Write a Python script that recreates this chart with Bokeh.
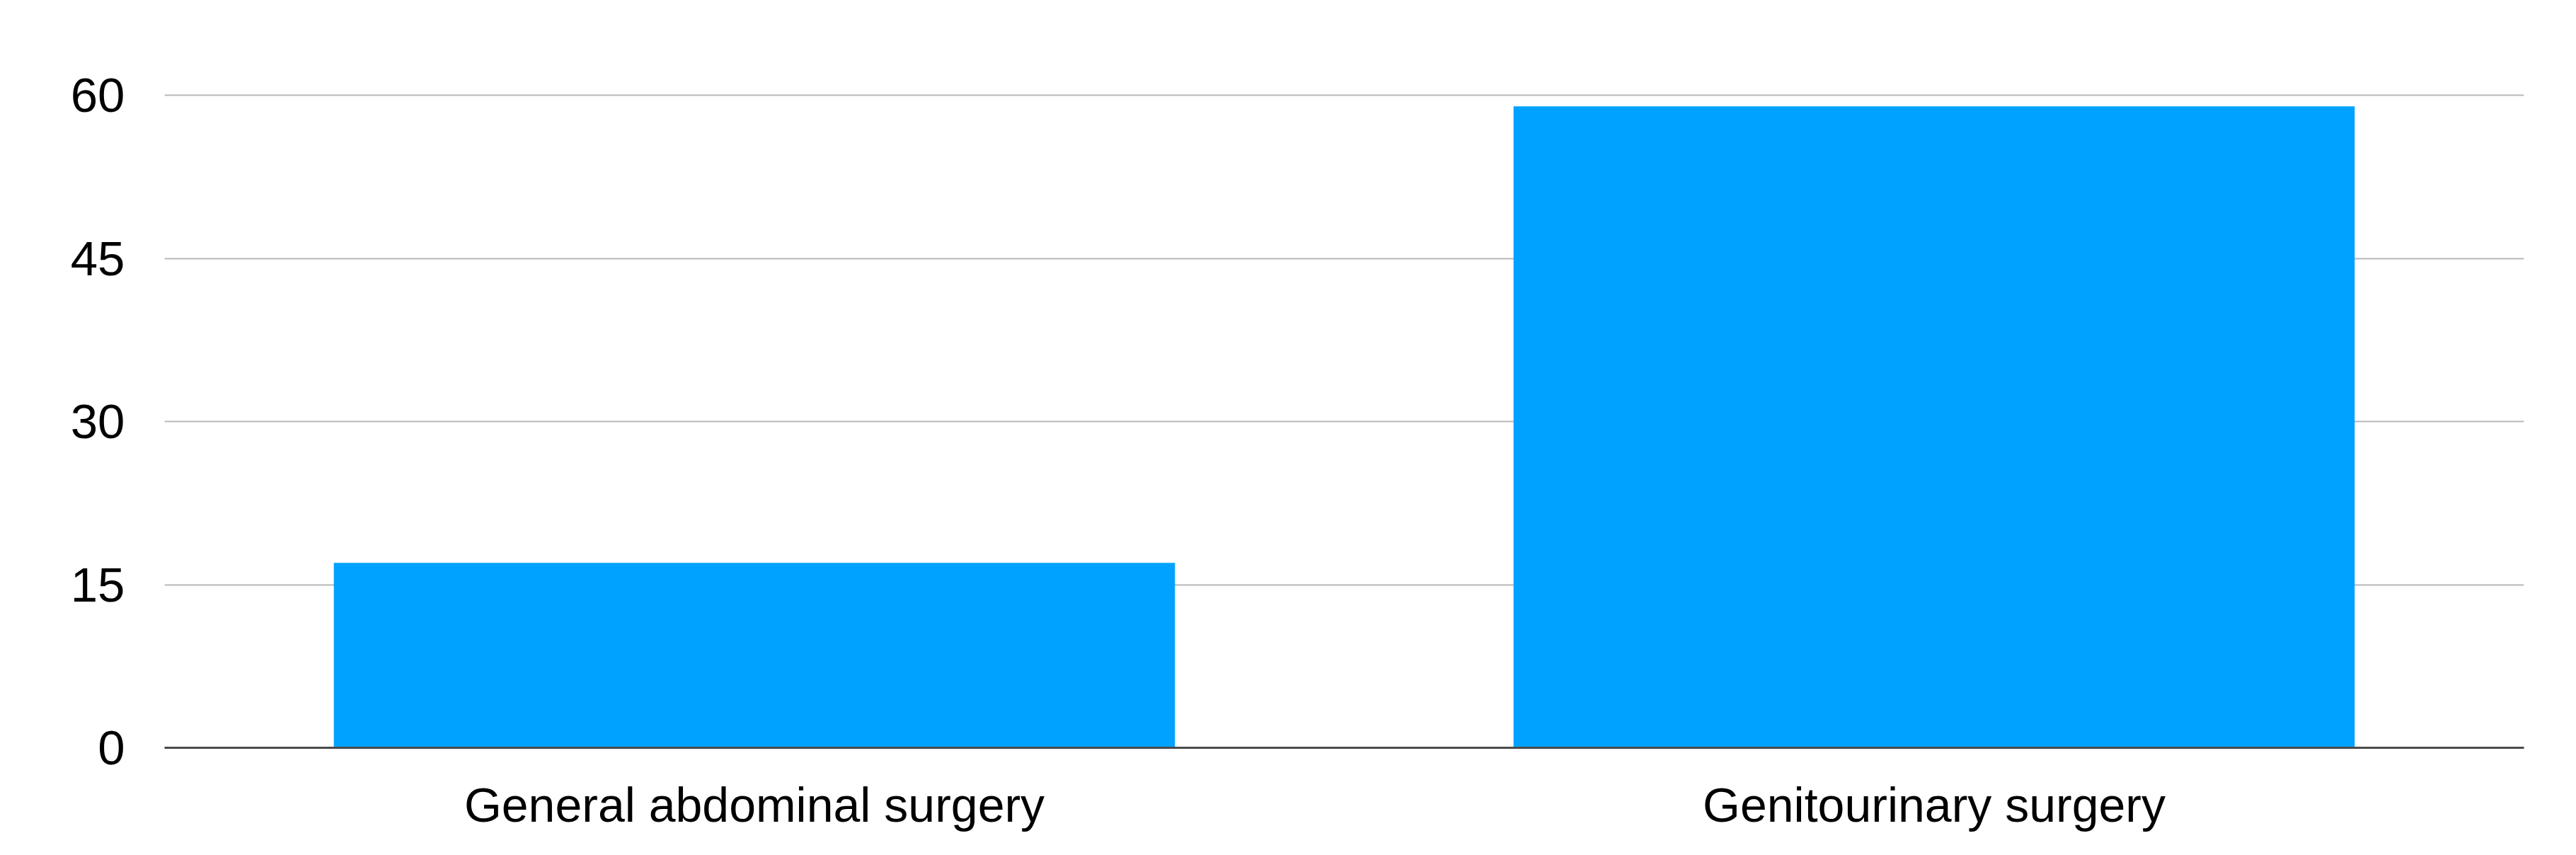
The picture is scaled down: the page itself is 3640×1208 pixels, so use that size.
from bokeh.plotting import figure
from bokeh.models import Range1d, FixedTicker, ColumnDataSource
from bokeh.embed import file_html
from bokeh.resources import INLINE

categories = ["General abdominal surgery", "Genitourinary surgery"]
values = [17, 59]
y_ticks = [0, 15, 30, 45, 60]

src = ColumnDataSource(dict(cat=categories, val=values))

p = figure(x_range=categories, y_range=Range1d(0, 61),
           width=3632, height=1200, output_backend="svg",
           toolbar_location=None, min_border_left=232, min_border_right=66,
           min_border_top=119, min_border_bottom=144)
p.outline_line_color = None
p.vbar(x="cat", top="val", width=0.713, source=src, color="#00A2FF", line_color=None)

p.xgrid.grid_line_color = None
p.ygrid.grid_line_color = "#b8b8b8"
p.ygrid.grid_line_width = 2
p.yaxis.ticker = FixedTicker(ticks=y_ticks)

p.yaxis.axis_line_color = None
p.yaxis.major_tick_line_color = None
p.yaxis.minor_tick_line_color = None
p.yaxis.major_tick_out = 0
p.yaxis.major_label_standoff = 56
p.yaxis.major_label_text_font = "Liberation Sans"
p.yaxis.major_label_text_font_size = "69px"
p.yaxis.major_label_text_color = "#000000"

p.xaxis.axis_line_color = "#4a4a4a"
p.xaxis.axis_line_width = 3
p.xaxis.major_tick_line_color = None
p.xaxis.minor_tick_line_color = None
p.xaxis.major_tick_out = 0
p.xaxis.major_label_standoff = 42
p.xaxis.major_label_text_font = "Liberation Sans"
p.xaxis.major_label_text_font_size = "68px"
p.xaxis.major_label_text_color = "#000000"

open("out.html", "w").write(file_html(p, INLINE))
